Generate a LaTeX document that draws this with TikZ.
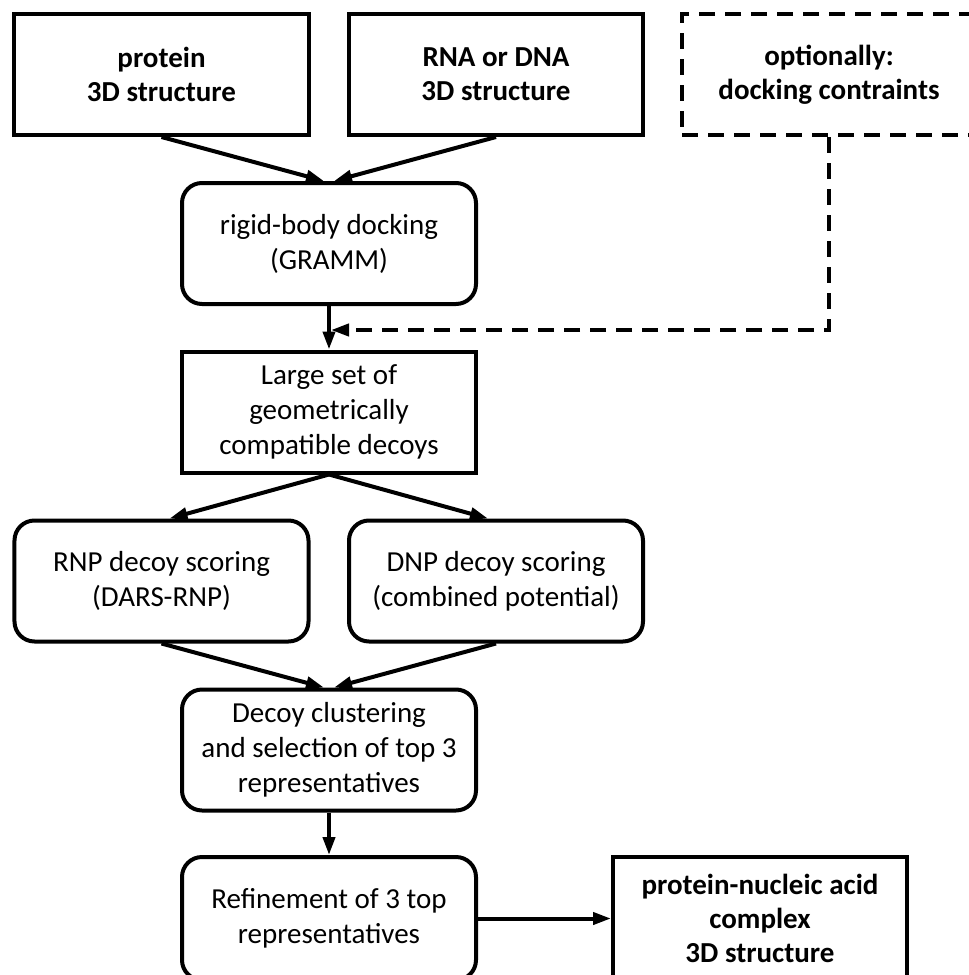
\documentclass[tikz,border=0pt]{standalone}
\usepackage{fontspec}
\setmainfont{Carlito}
\usetikzlibrary{arrows.meta}

\begin{document}
\begin{tikzpicture}[
    x=1bp, y=-1bp, font=\fontsize{29bp}{35bp}\selectfont,
    box/.style={draw, line width=4bp, minimum width=294bp,
                minimum height=121bp, align=center, inner sep=0pt},
    rbox/.style={box, rounded corners=20bp},
    obox/.style={box, dash pattern=on 16bp off 10bp},
    bfx/.style={font=\fontsize{29bp}{34bp}\selectfont\bfseries},
    arr/.style={-{Triangle[length=18bp, width=12bp]}, line width=4bp},
    optarr/.style={arr, dash pattern=on 16bp off 10bp},
]

% ===================== Marco =====================
\useasboundingbox (0,0) rectangle (969,975);
\clip (0,0) rectangle (969,975);

% ===================== Entradas =====================
\node[box, bfx] (prot) at (161.5,74.5) {protein\\3D structure};
\node[box, bfx] (nuc) at (496,74.5) {RNA or DNA\\3D structure};
\node[obox, bfx] (opt) at (829,74.5) {optionally:\\docking contraints};

% ===================== Docking =====================
\node[rbox] (dock) at (329,243.5) {rigid-body docking\\(GRAMM)};
\node[box] (decoys) at (329,412) {Large set of\\geometrically\\compatible decoys};

% ===================== Puntuacion =====================
\node[rbox] (rnp) at (161.5,581) {RNP decoy scoring\\(DARS-RNP)};
\node[rbox] (dnp) at (496,581) {DNP decoy scoring\\(combined potential)};

% ===================== Agrupamiento y refinamiento =====================
\node[rbox] (clust) at (329,750) {Decoy clustering\\and selection of top 3\\representatives};
\node[rbox, minimum height=123bp] (refine) at (329,918.5) {Refinement of 3 top\\representatives};
\node[box, bfx, minimum height=123bp] (cplx) at (760,918.5) {protein-nucleic acid\\complex\\3D structure};

% ===================== Flechas =====================
\draw[arr] (prot.south) -- ([xshift=-5bp]dock.north);
\draw[arr] (nuc.south) -- ([xshift=5bp]dock.north);
\draw[arr] (dock.south) -- (decoys.north);

\coordinate (join) at (331,330);
\draw[optarr] (opt.south) |- (join);

\draw[arr] (decoys.south) -- ([xshift=8bp]rnp.north);
\draw[arr] (decoys.south) -- ([xshift=-8bp]dnp.north);
\draw[arr] (rnp.south) -- ([xshift=-5bp]clust.north);
\draw[arr] (dnp.south) -- ([xshift=5bp]clust.north);
\draw[arr] (clust.south) -- (refine.north);
\draw[arr] (refine.east) -- (cplx.west);

\end{tikzpicture}
\end{document}
